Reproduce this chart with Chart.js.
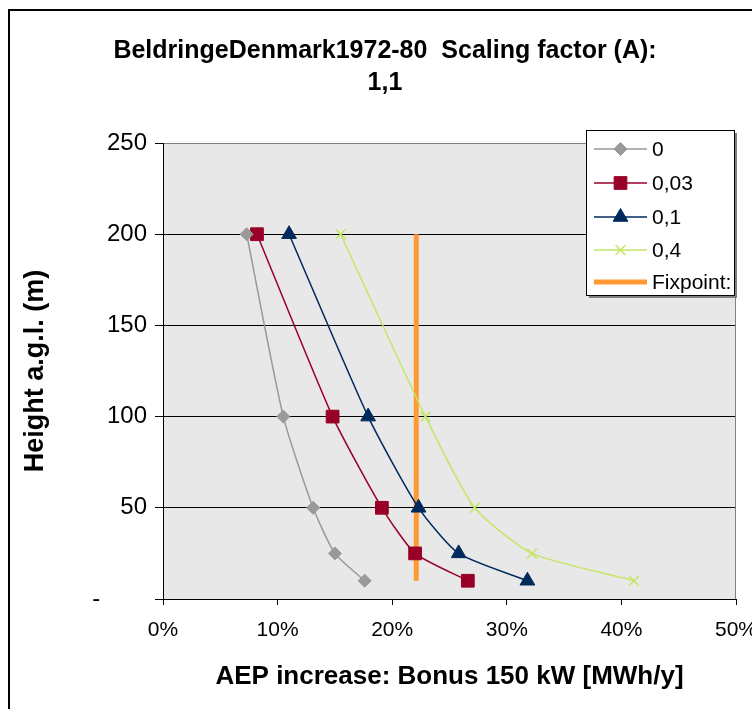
<!DOCTYPE html>
<html>
<head>
<meta charset="utf-8">
<script src="https://cdn.jsdelivr.net/npm/chart.js@4.4.0/dist/chart.umd.min.js"></script>
<style>
html, body { margin: 0; padding: 0; background: #fff; }
</style>
</head>
<body>
<canvas id="aepChart" width="752" height="709"></canvas>
<script>
// heights a.g.l. (m) of the marked points
const heights = [200, 100, 50, 25, 10];
const seriesNames = ['0', '0,03', '0,1', '0,4'];
// AEP increase (%) per roughness class
const aep0 = [7.3, 10.5, 13.1, 15.0, 17.6];
const aep003 = [8.2, 14.8, 19.1, 22.0, 26.6];
const aep01 = [11.0, 17.9, 22.3, 25.8, 31.8];
const aep04 = [15.5, 22.9, 27.2, 32.2, 41.1];
const fixpointName = 'Fixpoint:';
const fixpointX = [22.1, 22.1];
const fixpointHeights = [10, 200];
const titleLines = ['BeldringeDenmark1972-80  Scaling factor (A):', '1,1'];

const FONT = '"Liberation Sans", Arial, sans-serif';
Chart.defaults.font.family = FONT;
Chart.defaults.color = '#000';

function toPoints(xs, ys) {
    return xs.map((x, i) => ({ x: x, y: ys[i] }));
}

const frame = {
    id: 'frame',
    beforeDraw(chart) {
        const ctx = chart.ctx, a = chart.chartArea;
        ctx.save();
        ctx.fillStyle = '#fff';
        ctx.fillRect(0, 0, chart.width, chart.height);
        ctx.strokeStyle = '#000';
        ctx.lineWidth = 2;
        ctx.strokeRect(9, 10, 800, 800);
        ctx.fillStyle = '#e8e8e8';
        ctx.fillRect(a.left, a.top, a.right - a.left, a.bottom - a.top);
        ctx.restore();
    },
    beforeDatasetsDraw(chart) {
        const ctx = chart.ctx, a = chart.chartArea;
        ctx.save();
        ctx.strokeStyle = '#808080';
        ctx.lineWidth = 1;
        ctx.beginPath();
        ctx.moveTo(a.right - 0.5, a.top);
        ctx.lineTo(a.right - 0.5, a.bottom);
        ctx.stroke();
        ctx.restore();
    },
    afterDraw(chart) {
        const ctx = chart.ctx;
        ctx.save();
        // title
        ctx.fillStyle = '#000';
        ctx.font = 'bold 25px ' + FONT;
        ctx.textAlign = 'center';
        ctx.textBaseline = 'middle';
        ctx.fillText(titleLines[0], 385, 51);
        ctx.fillText(titleLines[1], 385, 83);

        // legend box
        ctx.fillStyle = '#808080';
        ctx.fillRect(589, 133, 148, 165);
        ctx.fillStyle = '#fff';
        ctx.fillRect(587, 130.5, 148, 165);
        ctx.strokeStyle = '#000';
        ctx.lineWidth = 1;
        ctx.strokeRect(586.5, 130.5, 148, 165);

        const rows = [149, 183, 217, 250, 282];
        ctx.font = '21px ' + FONT;
        ctx.textAlign = 'left';
        chart.data.datasets.forEach((ds, i) => {
            const y = rows[i];
            ctx.strokeStyle = ds.borderColor;
            ctx.lineWidth = ds.borderWidth;
            ctx.beginPath();
            ctx.moveTo(594, y);
            ctx.lineTo(647, y);
            ctx.stroke();
            if (ds.pointRadius > 0) {
                ctx.fillStyle = ds.pointBackgroundColor;
                ctx.strokeStyle = ds.pointBorderColor;
                ctx.lineWidth = ds.pointBorderWidth;
                Chart.helpers.drawPoint(ctx, {
                    pointStyle: ds.pointStyle, radius: ds.pointRadius,
                    rotation: 0, borderWidth: ds.pointBorderWidth
                }, 620.5, y);
            }
            ctx.fillStyle = '#000';
            ctx.fillText(ds.label, 652, y + 1);
        });
        ctx.restore();
    }
};

function series(label, xs, color, style, radius, borderWidth) {
    return {
        label: label,
        data: toPoints(xs, heights),
        borderColor: color,
        backgroundColor: color,
        borderWidth: 1.5,
        pointStyle: style,
        pointRadius: radius,
        pointHoverRadius: radius,
        pointBackgroundColor: color,
        pointBorderColor: color,
        pointBorderWidth: borderWidth,
        tension: 0.2,
        fill: false
    };
}

new Chart(document.getElementById('aepChart').getContext('2d'), {
    type: 'line',
    data: {
        datasets: [
            series(seriesNames[0], aep0, '#999999', 'rectRot', 6.5, 1),
            series(seriesNames[1], aep003, '#990028', 'rect', 9, 1),
            series(seriesNames[2], aep01, '#002a5c', 'triangle', 8.5, 1),
            series(seriesNames[3], aep04, '#c4e664', 'crossRot', 7, 1.5),
            {
                label: fixpointName,
                data: toPoints(fixpointX, fixpointHeights),
                borderColor: '#ff9933',
                backgroundColor: '#ff9933',
                borderWidth: 5,
                borderCapStyle: 'butt',
                pointRadius: 0,
                pointHoverRadius: 0,
                pointBorderWidth: 0,
                tension: 0,
                fill: false
            }
        ]
    },
    options: {
        responsive: false,
        animation: false,
        events: [],
        layout: { padding: { left: 0, top: 143, right: 16, bottom: 0 } },
        plugins: {
            legend: { display: false },
            title: { display: false },
            tooltip: { enabled: false }
        },
        scales: {
            x: {
                type: 'linear',
                min: 0,
                max: 50,
                ticks: {
                    stepSize: 10,
                    padding: 13,
                    font: { size: 21 },
                    callback: v => v + '%'
                },
                grid: { drawOnChartArea: false, color: '#000', tickLength: 6 },
                border: { color: '#000', width: 1 },
                title: {
                    display: true,
                    text: 'AEP increase: Bonus 150 kW [MWh/y]',
                    font: { size: 26, weight: 'bold' },
                    padding: { top: 0, bottom: 17 }
                },
                afterFit(scale) {
                    scale.height = 110;
                    scale.paddingLeft = 0;
                    scale.paddingRight = 0;
                }
            },
            y: {
                type: 'linear',
                min: 0,
                max: 250,
                ticks: {
                    stepSize: 50,
                    padding: 8,
                    font: { size: 24 },
                    callback: v => v === 0 ? '-       ' : v
                },
                grid: {
                    color: ctx => ctx.tick && ctx.tick.value === 250 ? '#808080' : '#000',
                    tickColor: '#000',
                    tickLength: 8
                },
                border: { color: '#000', width: 1 },
                title: {
                    display: true,
                    text: 'Height a.g.l. (m)',
                    font: { size: 27, weight: 'bold' },
                    padding: { top: 19, bottom: 0 }
                },
                afterFit(scale) {
                    scale.width = 163;
                    scale.paddingTop = 0;
                    scale.paddingBottom = 0;
                }
            }
        }
    },
    plugins: [frame]
});
</script>
</body>
</html>
